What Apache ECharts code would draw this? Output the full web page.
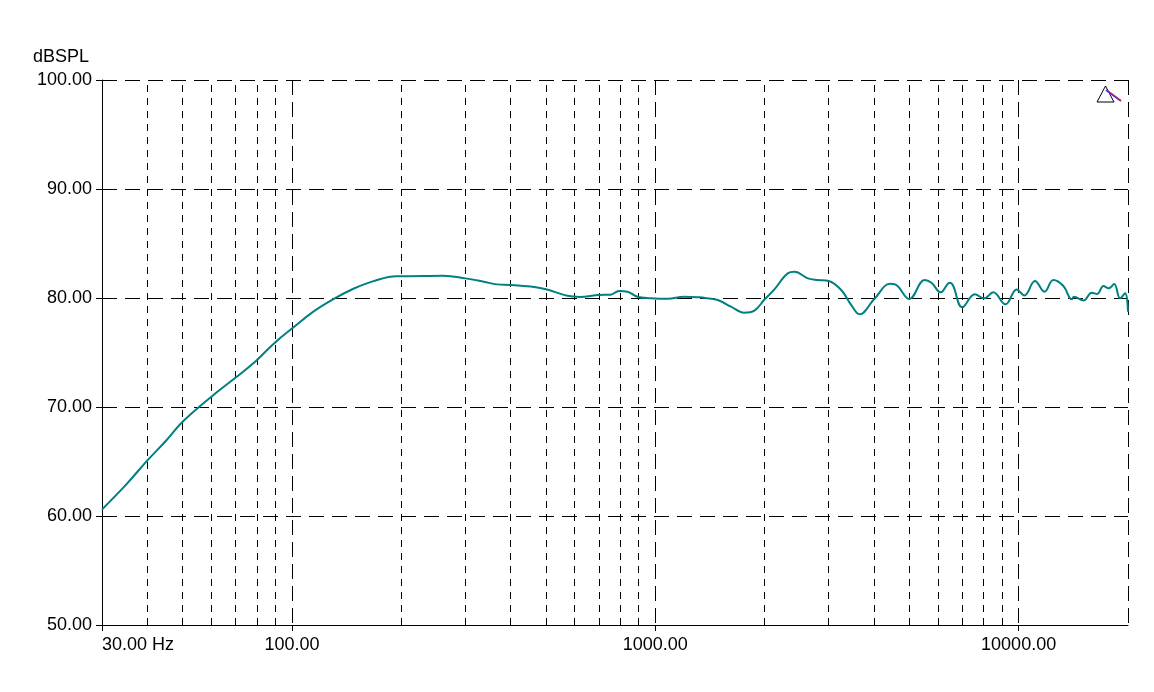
<!DOCTYPE html>
<html>
<head>
<meta charset="utf-8">
<script src="https://cdn.jsdelivr.net/npm/echarts@6/dist/echarts.min.js"></script>
<style>
html,body{margin:0;padding:0;background:#fff;}
#chart{width:1154px;height:692px;}
</style>
</head>
<body>
<div id="chart"></div>
<script>
// Frequency (Hz) and SPL (dB)
const freqs = [30, 35, 40, 45, 50, 60, 70, 80, 90, 100, 114.5, 130, 147.6, 167.6, 194, 200, 261, 300, 337, 367, 400, 454, 500, 573, 620, 700, 753, 795, 838, 892, 972, 1030, 1081, 1201, 1321, 1393, 1485, 1616, 1757, 1874, 2000, 2127, 2315, 2415, 2630, 2802, 3000, 3249, 3460, 3650, 4000, 4430, 4600, 5000, 5514, 5754, 6105, 6466, 6590, 7000, 7577, 8045, 8514, 9200, 9876, 10368, 11090, 11780, 12464, 13280, 14000, 14200, 15080, 15900, 16450, 17120, 17700, 18320, 19020, 19640, 20000];
const spl = [60.6, 62.9, 65.1, 66.9, 68.65, 70.95, 72.7, 74.3, 75.95, 77.2, 78.75, 79.9, 80.85, 81.55, 82.0, 82.0, 82.05, 81.8, 81.5, 81.25, 81.2, 81.05, 80.8, 80.2, 80.1, 80.28, 80.3, 80.65, 80.58, 80.12, 79.97, 79.94, 79.94, 80.12, 80.06, 79.97, 79.82, 79.2, 78.65, 78.84, 79.88, 80.79, 82.26, 82.4, 81.8, 81.65, 81.56, 80.73, 79.36, 78.5, 79.88, 81.3, 81.2, 79.91, 81.65, 81.4, 80.52, 81.4, 81.19, 79.15, 80.34, 79.97, 80.52, 79.42, 80.79, 80.24, 81.56, 80.58, 81.65, 81.1, 79.88, 80.12, 79.76, 80.49, 80.37, 81.1, 80.89, 81.28, 79.97, 80.43, 78.74];
// Minor vertical grid frequencies
const minorGrid = [40, 50, 60, 70, 80, 90, 200, 300, 400, 500, 600, 700, 800, 900, 2000, 3000, 4000, 5000, 6000, 7000, 8000, 9000];
const xMin = 30, xMax = 20000;
const yMin = 50, yMax = 100, yStep = 10;
const yName = 'dBSPL';

const FONT = 'Liberation Sans';
const chart = echarts.init(document.getElementById('chart'), null, {renderer: 'canvas'});
chart.setOption({
  animation: false,
  backgroundColor: '#ffffff',
  grid: {left: 102, right: 26, top: 80, bottom: 67, containLabel: false},
  xAxis: {
    type: 'log', logBase: 10, min: xMin, max: xMax,
    axisLine: {show: true, onZero: false, lineStyle: {color: '#000', width: 1}},
    axisTick: {show: true, length: 6, lineStyle: {color: '#000'}},
    axisLabel: {
      color: '#000', fontFamily: FONT, fontSize: 18, margin: 11,
      showMaxLabel: false, alignMinLabel: 'left',
      formatter: function (v) {
        const r = Math.round(v);
        return r === xMin ? r.toFixed(2) + ' Hz' : r.toFixed(2);
      }
    },
    splitLine: {show: true, lineStyle: {color: '#000', type: [15, 7], width: 1}}
  },
  yAxis: {
    type: 'value', min: yMin, max: yMax, interval: yStep,
    axisLine: {show: true, lineStyle: {color: '#000', width: 1}},
    axisTick: {show: true, length: 6, lineStyle: {color: '#000'}},
    axisLabel: {color: '#000', fontFamily: FONT, fontSize: 18, margin: 10,
      formatter: function (v) { return v.toFixed(2); }},
    splitLine: {show: true, lineStyle: {color: '#000', type: [15, 8], width: 1}}
  },
  graphic: [
    {type: 'text', left: 33, top: 48, style: {text: yName, fill: '#000', font: '18px "Liberation Sans"'}},
    {type: 'polygon', shape: {points: [[1097, 102], [1105.5, 86], [1114, 102]]}, style: {fill: '#fff', stroke: '#000', lineWidth: 1}, z: 100},
    {type: 'line', shape: {x1: 1106, y1: 90, x2: 1121, y2: 101}, style: {stroke: '#3030ff', lineWidth: 2}, z: 101},
    {type: 'line', shape: {x1: 1107, y1: 90, x2: 1121, y2: 100.5}, style: {stroke: '#ff2020', lineWidth: 1}, z: 102}
  ],
  series: [
    {
      type: 'line',
      data: [],
      silent: true,
      markLine: {
        silent: true, symbol: 'none', animation: false,
        label: {show: false},
        lineStyle: {color: '#000', type: [7, 6], width: 1},
        data: minorGrid.map(f => ({xAxis: f}))
      }
    },
    {
      type: 'line',
      data: freqs.map((f, i) => [f, spl[i]]),
      showSymbol: false,
      smooth: 0.4,
      lineStyle: {color: '#008080', width: 2},
      itemStyle: {color: '#008080'},
      z: 10
    }
  ]
});
</script>
</body>
</html>
